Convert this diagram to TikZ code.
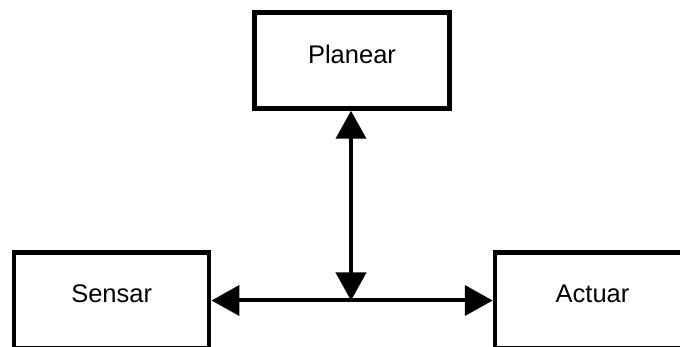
\documentclass[tikz,border=0pt]{standalone}
\usepackage{fontspec}
\setmainfont{Liberation Sans}
\usetikzlibrary{arrows.meta}
\begin{document}
\begin{tikzpicture}[x=1pt,y=-1pt,
  box/.style={draw, line width=4.5pt, minimum width=195pt, minimum height=96pt, inner sep=0pt},
  boxtext/.style={font=\fontsize{25.5}{30}\selectfont, yshift=6.5pt},
  conn/.style={line width=4pt, {Triangle[length=28pt,width=30pt]}-{Triangle[length=28pt,width=30pt]}}]
  \useasboundingbox (0,0) rectangle (680,347);
  \clip (0,0) rectangle (680,347);
  \node[box, label={[boxtext]center:Planear}] (planear) at (352,60.5) {};
  \node[box, label={[boxtext]center:Sensar}] (sensar) at (111.7,300.5) {};
  \node[box, label={[boxtext]center:Actuar}] (actuar) at (592.5,300.5) {};
  \coordinate (junction) at (351,300.5);
  \draw[conn] (sensar.east) -- (actuar.west);
  \draw[conn] (planear.south -| junction) -- (junction);
\end{tikzpicture}
\end{document}
